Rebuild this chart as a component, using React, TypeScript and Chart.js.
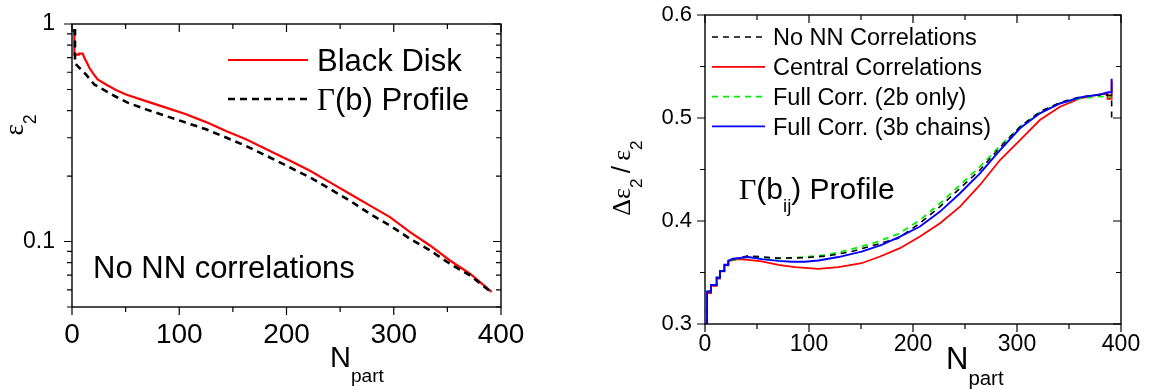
import React, { useEffect, useRef } from 'react';
import { Chart, registerables } from 'chart.js';

Chart.register(...registerables);

const SANS = '"Liberation Sans", Arial, sans-serif';
const SERIF = '"Liberation Serif", "Times New Roman", serif';

// ---------- Left panel data: epsilon_2 vs N_part (log y) ----------
const bdNpart = [1, 2.2, 2.2, 6.3, 6.3, 10, 11.5, 13.7, 16.2, 19.3, 23.9, 31.7, 41, 50.3, 69, 87.6, 106.3, 125, 143.6, 162.2, 184.6, 203.3, 221.9, 240.6, 259.2, 277.9, 296.5, 315.2, 333.8, 352.4, 371.1, 391.3];
const bdEps2 = [0.925, 0.925, 0.723, 0.723, 0.731, 0.731, 0.699, 0.667, 0.629, 0.596, 0.556, 0.527, 0.497, 0.4745, 0.442, 0.4125, 0.3845, 0.354, 0.322, 0.295, 0.261, 0.235, 0.2114, 0.187, 0.1654, 0.1462, 0.1294, 0.1104, 0.0959, 0.0818, 0.0711, 0.0587];
const gbNpart = [1, 2.8, 2.8, 5.3, 13, 20.8, 31.7, 41, 51.9, 69, 87.6, 106.3, 125, 143.6, 162.2, 184.6, 203.3, 221.9, 240.6, 259.2, 277.9, 296.5, 315.2, 333.8, 352.4, 371.1, 391.3];
const gbEps2 = [0.935, 0.935, 0.66, 0.64, 0.586, 0.527, 0.491, 0.463, 0.435, 0.405, 0.3775, 0.352, 0.328, 0.3006, 0.275, 0.2434, 0.219, 0.197, 0.1743, 0.154, 0.1339, 0.1184, 0.1029, 0.091, 0.079, 0.0699, 0.0583];

const leftYTicks = [0.05, 0.06, 0.07, 0.08, 0.09, 0.1, 0.2, 0.3, 0.4, 0.5, 0.6, 0.7, 0.8, 0.9, 1];
const leftYLabels = ['0.1', '1'];
const xTicks = [0, 50, 100, 150, 200, 250, 300, 350, 400];
const xLabels = ['0', '100', '200', '300', '400'];

// ---------- Right panel data: Delta eps_2 / eps_2 vs N_part ----------
const ncNpart = [2, 2, 5.8, 5.8, 11.2, 11.2, 14.4, 14.4, 18.6, 18.6, 22.4, 22.4, 32, 41.6, 70.5, 96, 118.6, 141, 163.5, 185.9, 206.7, 226, 245.2, 264.4, 283.7, 302.9, 322, 341.3, 360.6, 379.8, 389, 391, 391];
const ncRatio = [0.3, 0.3316, 0.3316, 0.338, 0.338, 0.345, 0.345, 0.3516, 0.3516, 0.3575, 0.3575, 0.3616, 0.364, 0.3662, 0.364, 0.3643, 0.3662, 0.3703, 0.3768, 0.3833, 0.3979, 0.414, 0.4318, 0.4495, 0.4715, 0.4915, 0.506, 0.515, 0.5205, 0.5225, 0.522, 0.522, 0.498];
const ccNpart = [2, 2, 5.8, 5.8, 11.2, 11.2, 14.4, 14.4, 18.6, 18.6, 22.4, 22.4, 32, 41.6, 54.5, 70.5, 86.5, 108.9, 128.2, 150.6, 168.3, 187.5, 206.7, 226, 245.2, 264.4, 283.7, 302.9, 322, 341.3, 360.6, 379.8, 387, 387, 391, 391];
const ccRatio = [0.3, 0.33, 0.33, 0.337, 0.337, 0.344, 0.344, 0.351, 0.351, 0.357, 0.357, 0.361, 0.363, 0.3623, 0.3607, 0.3575, 0.3552, 0.3536, 0.3552, 0.359, 0.3655, 0.3736, 0.3849, 0.3979, 0.414, 0.435, 0.4592, 0.4786, 0.498, 0.5109, 0.519, 0.5229, 0.5235, 0.5185, 0.5185, 0.536];
const f2Npart = [2, 2, 5.8, 5.8, 11.2, 11.2, 14.4, 14.4, 18.6, 18.6, 22.4, 22.4, 32, 41.6, 70.5, 96, 118.6, 141, 163.5, 185.9, 206.7, 226, 245.2, 264.4, 283.7, 302.9, 322, 341.3, 360.6, 379.8, 391];
const f2Ratio = [0.3, 0.3316, 0.3316, 0.338, 0.338, 0.345, 0.345, 0.3516, 0.3516, 0.3575, 0.3575, 0.3616, 0.363, 0.3655, 0.3635, 0.365, 0.3672, 0.3727, 0.379, 0.3875, 0.401, 0.4172, 0.435, 0.4527, 0.4728, 0.4915, 0.5055, 0.5145, 0.519, 0.521, 0.52];
const f3Npart = [2, 2, 5.8, 5.8, 11.2, 11.2, 14.4, 14.4, 18.6, 18.6, 22.4, 22.4, 27, 32, 41.6, 54.5, 70.5, 83.3, 96.1, 108.9, 128.2, 150.6, 169.9, 187.5, 206.7, 226, 245.2, 264.4, 283.7, 302.9, 322, 341.3, 360.6, 379.8, 388, 391, 391];
const f3Ratio = [0.3, 0.3316, 0.3316, 0.338, 0.338, 0.345, 0.345, 0.3516, 0.3516, 0.3575, 0.3575, 0.3616, 0.3635, 0.364, 0.365, 0.363, 0.3613, 0.3604, 0.3604, 0.3617, 0.365, 0.3703, 0.3768, 0.3849, 0.3946, 0.4091, 0.4269, 0.4463, 0.4689, 0.49, 0.5045, 0.5141, 0.52, 0.5229, 0.525, 0.525, 0.538];

const rightYTicks = [0.3, 0.35, 0.4, 0.45, 0.5, 0.55, 0.6];
const rightYLabels = ['0.3', '0.4', '0.5', '0.6'];

const toPoints = (xs: number[], ys: number[]) => xs.map((x, i) => ({ x, y: ys[i] }));

// ---------- rich text helpers ----------
type Run = { t: string; size: number; fam: string; dy: number };
function splitGreek(s: string, size: number, dy: number, out: Run[]) {
  let cur = '';
  let curGreek: boolean | null = null;
  for (const ch of s) {
    const g = /[\u0370-\u03FF]/.test(ch);
    if (curGreek !== null && g !== curGreek) {
      out.push({ t: cur, size, fam: curGreek ? SERIF : SANS, dy });
      cur = '';
    }
    cur += ch;
    curGreek = g;
  }
  if (cur) out.push({ t: cur, size, fam: curGreek ? SERIF : SANS, dy });
}
function parseRich(s: string, size: number, subScale = 0.66, subDy = 0.45): Run[] {
  const out: Run[] = [];
  const re = /_\{([^}]*)\}/g;
  let last = 0;
  let m: RegExpExecArray | null;
  while ((m = re.exec(s))) {
    splitGreek(s.slice(last, m.index), size, 0, out);
    splitGreek(m[1], size * subScale, size * subDy, out);
    last = re.lastIndex;
  }
  splitGreek(s.slice(last), size, 0, out);
  return out;
}
function runsWidth(ctx: CanvasRenderingContext2D, runs: Run[]) {
  let w = 0;
  for (const r of runs) {
    ctx.font = `${r.size}px ${r.fam}`;
    w += ctx.measureText(r.t).width;
  }
  return w;
}
function drawRuns(ctx: CanvasRenderingContext2D, runs: Run[], x: number, y: number) {
  let cx = x;
  ctx.textBaseline = 'alphabetic';
  ctx.textAlign = 'left';
  for (const r of runs) {
    ctx.font = `${r.size}px ${r.fam}`;
    ctx.fillText(r.t, cx, y + r.dy);
    cx += ctx.measureText(r.t).width;
  }
}

// ---------- plugin: frame, mirrored ticks, titles, legend, note ----------
const framePlugin = {
  id: 'frame',
  afterDraw(chart: any, _args: any, o: any) {
    const { ctx, chartArea: ca } = chart;
    const xs = chart.scales.x;
    const ys = chart.scales.y;
    ctx.save();
    ctx.strokeStyle = '#000';
    ctx.lineWidth = 1.4;
    ctx.setLineDash([]);
    ctx.strokeRect(ca.left, ca.top, ca.right - ca.left, ca.bottom - ca.top);
    ctx.lineWidth = 1.2;
    ctx.beginPath();
    xs.ticks.forEach((t: any) => {
      const px = xs.getPixelForValue(t.value);
      const len = t.label !== '' ? o.major : o.minor;
      ctx.moveTo(px, ca.bottom);
      ctx.lineTo(px, ca.bottom + len);
      ctx.moveTo(px, ca.top);
      ctx.lineTo(px, ca.top + len);
    });
    ys.ticks.forEach((t: any) => {
      const py = ys.getPixelForValue(t.value);
      const len = t.label !== '' ? o.major : o.minor;
      ctx.moveTo(ca.left - len, py);
      ctx.lineTo(ca.left, py);
      ctx.moveTo(ca.right - len, py);
      ctx.lineTo(ca.right, py);
    });
    ctx.stroke();

    ctx.fillStyle = '#000';
    // x title
    drawRuns(ctx, parseRich(o.xTitle.text, o.xTitle.size, 0.66, 0.52), o.xTitle.x, o.xTitle.y);
    // y title (rotated)
    const yr = parseRich(o.yTitle.text, o.yTitle.size, 0.66, 0.47);
    const yw = runsWidth(ctx, yr);
    ctx.save();
    ctx.translate(o.yTitle.x, o.yTitle.y);
    ctx.rotate(-Math.PI / 2);
    drawRuns(ctx, yr, -yw / 2, 0);
    ctx.restore();

    // note
    drawRuns(ctx, parseRich(o.note.text, o.note.size, 0.62, 0.42), o.note.x, o.note.y);

    // legend
    const lg = o.legend;
    chart.data.datasets.forEach((ds: any, i: number) => {
      const y = lg.y0 + i * lg.dy;
      ctx.strokeStyle = ds.borderColor;
      ctx.lineWidth = ds.borderWidth;
      ctx.setLineDash(ds.borderDash || []);
      ctx.beginPath();
      ctx.moveTo(lg.x0, y);
      ctx.lineTo(lg.x1, y);
      ctx.stroke();
      ctx.setLineDash([]);
      ctx.fillStyle = '#000';
      drawRuns(ctx, parseRich(ds.label, lg.size), lg.textX, y + lg.size * 0.357);
    });
    ctx.restore();
  },
};

const H = 390;

function makeLinearX(fontSize: number, pad: number, height: number) {
  return {
    type: 'linear',
    min: 0,
    max: 400,
    afterBuildTicks: (s: any) => {
      s.ticks = xTicks.map((v) => ({ value: v }));
    },
    afterFit: (s: any) => {
      s.height = height;
      s.paddingLeft = 0;
      s.paddingRight = 0;
    },
    grid: { display: false, drawTicks: false },
    border: { display: false },
    ticks: {
      autoSkip: false,
      maxRotation: 0,
      padding: pad,
      color: '#000',
      font: { family: SANS, size: fontSize },
      callback: (v: number) => (xLabels.includes(String(v)) ? String(v) : ''),
    },
  };
}

function leftConfig(): any {
  return {
    type: 'line',
    data: {
      datasets: [
        { label: 'Black Disk', data: toPoints(bdNpart, bdEps2), borderColor: '#ff0000', borderWidth: 2.2, order: 1 },
        { label: 'Γ(b) Profile', data: toPoints(gbNpart, gbEps2), borderColor: '#000000', borderWidth: 2.6, borderDash: [7, 5], order: 0 },
      ],
    },
    options: {
      animation: false,
      responsive: false,
      devicePixelRatio: 1,
      elements: { point: { radius: 0 }, line: { tension: 0, fill: false } },
      layout: { padding: { left: 0, top: 24, right: 79, bottom: 0 } },
      plugins: {
        legend: { display: false },
        tooltip: { enabled: false },
        frame: {
          major: 8,
          minor: 5,
          xTitle: { text: 'N_{part}', size: 29, x: 330, y: 367 },
          yTitle: { text: 'ε_{2}', size: 27, x: 23, y: 125 },
          note: { text: 'No NN correlations', size: 31, x: 93, y: 278 },
          legend: { x0: 228, x1: 308, textX: 317, y0: 60, dy: 39, size: 31 },
        },
      },
      scales: {
        x: makeLinearX(28, 11, 83),
        y: {
          type: 'logarithmic',
          min: 0.05,
          max: 1,
          afterBuildTicks: (s: any) => {
            s.ticks = leftYTicks.map((v) => ({ value: v }));
          },
          afterFit: (s: any) => {
            s.width = 72;
            s.paddingTop = 0;
            s.paddingBottom = 0;
          },
          grid: { display: false, drawTicks: false },
          border: { display: false },
          ticks: {
            autoSkip: false,
            padding: 17,
            color: '#000',
            font: { family: SANS, size: 23 },
            callback: (v: number) => {
              const s = String(v);
              return leftYLabels.includes(s) ? s : '';
            },
          },
        },
      },
    },
    plugins: [framePlugin],
  };
}

function rightConfig(): any {
  return {
    type: 'line',
    data: {
      datasets: [
        { label: 'No NN Correlations', data: toPoints(ncNpart, ncRatio), borderColor: '#000000', borderWidth: 1.6, borderDash: [6, 5], order: 1 },
        { label: 'Central Correlations', data: toPoints(ccNpart, ccRatio), borderColor: '#ff0000', borderWidth: 1.8, order: 3 },
        { label: 'Full Corr. (2b only)', data: toPoints(f2Npart, f2Ratio), borderColor: '#00ee00', borderWidth: 1.8, borderDash: [6, 5], order: 2 },
        { label: 'Full Corr. (3b chains)', data: toPoints(f3Npart, f3Ratio), borderColor: '#0000ff', borderWidth: 1.9, order: 0 },
      ],
    },
    options: {
      animation: false,
      responsive: false,
      devicePixelRatio: 1,
      elements: { point: { radius: 0 }, line: { tension: 0, fill: false } },
      layout: { padding: { left: 0, top: 15, right: 28, bottom: 0 } },
      plugins: {
        legend: { display: false },
        tooltip: { enabled: false },
        frame: {
          major: 8,
          minor: 5,
          xTitle: { text: 'N_{part}', size: 31, x: 366, y: 369 },
          yTitle: { text: 'Δε_{2}\u2009/\u2009ε_{2}', size: 26, x: 50, y: 178 },
          note: { text: 'Γ(b_{ij}) Profile', size: 30, x: 159, y: 199 },
          legend: { x0: 132, x1: 185, textX: 193, y0: 37, dy: 29.8, size: 23.5 },
        },
      },
      scales: {
        x: makeLinearX(23, 7, 66),
        y: {
          type: 'linear',
          min: 0.3,
          max: 0.6,
          afterBuildTicks: (s: any) => {
            s.ticks = rightYTicks.map((v) => ({ value: v }));
          },
          afterFit: (s: any) => {
            s.width = 125;
            s.paddingTop = 0;
            s.paddingBottom = 0;
          },
          grid: { display: false, drawTicks: false },
          border: { display: false },
          ticks: {
            autoSkip: false,
            padding: 13,
            color: '#000',
            font: { family: SANS, size: 22 },
            callback: (v: number) => {
              const s = v.toFixed(2).replace(/0$/, '');
              return rightYLabels.includes(s) ? s : '';
            },
          },
        },
      },
    },
    plugins: [framePlugin],
  };
}

function Panel({ left, width, config }: { left: number; width: number; config: () => any }) {
  const ref = useRef<HTMLCanvasElement>(null);
  useEffect(() => {
    const chart = new Chart(ref.current as HTMLCanvasElement, config());
    return () => chart.destroy();
  }, []);
  return (
    <canvas
      ref={ref}
      width={width}
      height={H}
      style={{ position: 'absolute', left, top: 0, width, height: H, display: 'block' }}
    />
  );
}

export default function App() {
  return (
    <div style={{ position: 'fixed', left: 0, top: 0, width: 1149, height: H, background: '#fff', overflow: 'hidden' }}>
      <Panel left={0} width={580} config={leftConfig} />
      <Panel left={580} width={569} config={rightConfig} />
    </div>
  );
}
